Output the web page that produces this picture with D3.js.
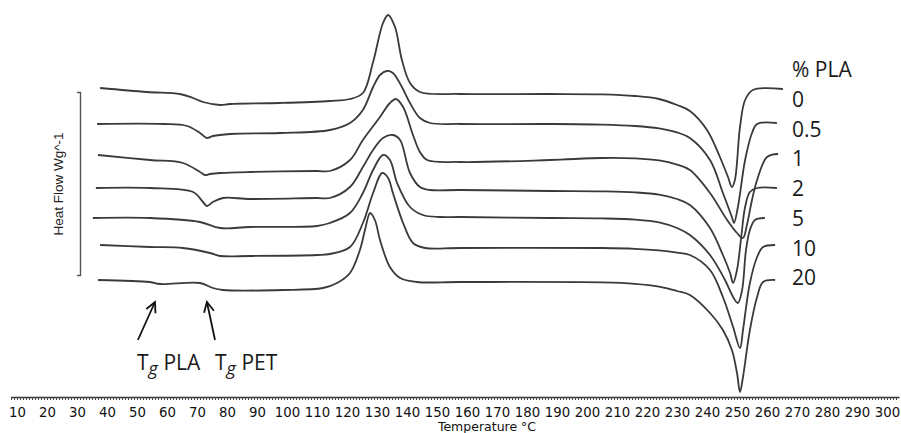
<!DOCTYPE html>
<html>
<head>
<meta charset="utf-8">
<script src="https://cdn.jsdelivr.net/npm/d3@7"></script>
<style>
  body { margin: 0; background: #fff; }
  svg { display: block; }
</style>
</head>
<body>
<svg id="dsc" width="901" height="433"></svg>
<script>
(function(){
	'use strict';

	// % PLA in the blend, top curve first
	var plaLabels = ['0', '0.5', '1', '2', '5', '10', '20'];
	// vertical stacking of the traces (heat flow units)
	var offsets = [-4.4, -6.2, -7.75, -9.4, -10.9, -12.3, -14.05];

	// [temperature °C, heat flow relative to start]
	var pla0 = [[37.7,0],[53.3,-0.2],[64.3,-0.3],[68.7,-0.5],[72,-0.7],[77.7,-0.85],[81,-0.8],[97.7,-0.75],[114.3,-0.65],[121,-0.55],[125.3,-0.25],[128.7,1.3],[132,3.25],[133.7,3.65],[136,3.05],[138.3,1.4],[141,0.25],[144.3,-0.2],[157.7,-0.3],[187.7,-0.3],[205,-0.32],[216,-0.4],[224,-0.55],[230,-0.85],[234.3,-1.15],[240,-2.1],[244.3,-3.45],[247,-4.45],[248.3,-4.95],[249.3,-4.6],[251,-1.95],[252.7,-0.6],[255.3,-0.1],[265.3,-0.05]];
	var pla05 = [[36.7,0],[58.7,0],[66.7,-0.1],[71,-0.45],[73.3,-0.7],[75.3,-0.6],[81,-0.5],[97.7,-0.45],[114.3,-0.3],[121,0.05],[125.3,0.7],[128.7,1.85],[131,2.45],[133.3,2.65],[135.3,2.55],[138.3,1.85],[141,1.05],[144.3,0.3],[147.7,0.05],[157.7,0],[187.7,0],[205,-0.03],[216,-0.1],[224,-0.22],[230,-0.42],[234.3,-0.7],[241,-1.8],[245.3,-3.45],[248.3,-4.65],[249,-4.95],[250.3,-4.15],[252.7,-1.8],[255,-0.45],[256.7,0],[263.3,0.05]];
	var pla1 = [[37,0],[54.3,-0.25],[65.3,-0.4],[71,-0.85],[72.7,-1.0],[74.3,-0.95],[77.7,-0.9],[87.7,-0.85],[110,-0.8],[114.3,-0.8],[121,-0.25],[125.3,0.75],[131,1.9],[134.3,2.6],[136.3,2.8],[138.7,2.4],[142,1.0],[144.3,0.15],[146.7,-0.25],[157.7,-0.35],[187.7,-0.25],[205,-0.15],[216,-0.17],[224,-0.27],[230,-0.48],[234.3,-0.75],[241,-1.9],[246.7,-3.25],[250,-3.9],[252,-4.15],[253.3,-3.5],[255,-2.25],[256.7,-1.25],[260,-0.1],[263.7,0.05]];
	var pla2 = [[36.3,0],[54.3,0],[68.7,-0.2],[72,-0.7],[73.3,-0.9],[75.3,-0.7],[78.7,-0.5],[87.7,-0.55],[110,-0.5],[114.3,-0.5],[121,0.05],[125.3,1.05],[128.7,1.9],[132,2.5],[135.3,2.65],[137.7,2.4],[141,0.75],[144.3,0.05],[147.7,-0.1],[157.7,-0.1],[187.7,-0.15],[205,-0.17],[216,-0.22],[224,-0.33],[230,-0.55],[234.3,-0.85],[241,-2.0],[245.3,-3.35],[247.7,-4.25],[248.7,-4.75],[250,-4.1],[251.3,-2.6],[252.7,-0.95],[254.3,-0.2],[256.7,0],[263.3,0]];
	var pla5 = [[35.3,0],[54.3,0],[71,-0.2],[77.7,-0.5],[87.7,-0.45],[110,-0.4],[114.3,-0.25],[121,0.25],[125.3,1.25],[128.7,2.4],[132,3.15],[134.3,2.9],[136.7,1.75],[141,0.55],[145.3,0.15],[151,0.05],[157.7,0.05],[187.7,0],[205,-0.02],[216,-0.08],[224,-0.22],[230,-0.5],[234.3,-0.85],[241,-1.85],[246,-3.1],[248.7,-3.95],[250.3,-4.25],[251.7,-3.6],[253,-1.6],[254.3,-0.6],[256,-0.1],[259.3,0]];
	var pla10 = [[37.7,0.05],[54.3,-0.05],[65.3,-0.1],[74.3,-0.35],[77.7,-0.5],[87.7,-0.5],[110,-0.45],[114.3,-0.4],[121,-0.05],[125.3,1.15],[128.7,2.65],[131.7,3.65],[133.7,3.4],[135.3,2.65],[138.7,1.15],[142,0.15],[146,-0.1],[157.7,-0.1],[205,-0.1],[216,-0.14],[224,-0.22],[230,-0.33],[234.3,-0.45],[241,-1.2],[245.3,-2.55],[248.7,-4.05],[251,-5.1],[252,-4.2],[254.3,-1.85],[256.7,-0.55],[258.7,-0.05],[262.7,0.05]];
	var pla20 = [[37,0.05],[54.3,-0.05],[57.7,-0.15],[71,-0.1],[75.3,-0.35],[78.7,-0.45],[98.7,-0.45],[112,-0.35],[116.7,-0.1],[121,0.4],[124.3,1.55],[126,2.55],[127.7,3.4],[129.3,3.05],[131,2.05],[134.3,0.7],[137.7,0.15],[143.3,-0.05],[157.7,-0.05],[205,-0.07],[216,-0.14],[224,-0.28],[230,-0.5],[234.3,-0.7],[241,-1.6],[245.3,-2.45],[248.3,-3.45],[250,-4.6],[251,-5.55],[252,-4.8],[254.3,-2.45],[256.7,-0.8],[258.7,-0.05],[262.7,0.05]];

	var series = [pla0, pla05, pla1, pla2, pla5, pla10, pla20];
	var tickLabels = d3.range(10, 301, 10);

	var svg = d3.select('#dsc');

	var x = d3.scaleLinear().domain([8, 304]).range([11, 899]);
	var y = d3.scaleLinear().domain([0, -20]).range([0, 400]);

	// temperature axis
	var xAxis = d3.axisBottom(x)
		.tickValues(d3.range(8, 304, 1))
		.tickSize(3)
		.tickSizeOuter(0)
		.tickPadding(7.5)
		.tickFormat(function(d){ return tickLabels.indexOf(d) >= 0 ? d : ''; });

	var gx = svg.append('g')
		.attr('transform', 'translate(0,397)')
		.call(xAxis);
	gx.select('.domain').attr('stroke', '#333').attr('stroke-width', 1.3);
	gx.selectAll('.tick line').attr('stroke', '#444');
	gx.selectAll('.tick text')
		.attr('fill', '#111')
		.style('font-family', 'DejaVu Sans')
		.style('font-size', '13.3px');

	svg.append('text')
		.attr('x', 487)
		.attr('y', 431)
		.attr('text-anchor', 'middle')
		.attr('fill', '#111')
		.style('font-family', 'DejaVu Sans')
		.style('font-size', '12.5px')
		.text('Temperature °C');

	// heat flow bracket
	var yBracket = d3.scaleLinear().domain([0, 1]).range([275, 92]);
	var gy = svg.append('g')
		.attr('transform', 'translate(80,0)')
		.call(d3.axisLeft(yBracket).tickValues([]).tickSizeOuter(3));
	gy.select('.domain').attr('stroke', '#555').attr('stroke-width', 1.4);

	svg.append('text')
		.attr('transform', 'translate(63,184) rotate(-90)')
		.attr('text-anchor', 'middle')
		.attr('fill', '#222')
		.style('font-family', 'Liberation Sans')
		.style('font-size', '13.5px')
		.text('Heat Flow Wg^-1');

	// traces
	var line = d3.line()
		.x(function(d){ return x(d[0]); })
		.y(function(d){ return y(d[1]); })
		.curve(d3.curveCatmullRom.alpha(0.5));

	svg.append('g')
		.selectAll('path')
		.data(series)
		.enter()
		.append('path')
			.attr('d', function(d, i){
				return line(d.map(function(p){ return [p[0], p[1] + offsets[i]]; }));
			})
			.attr('fill', 'none')
			.attr('stroke', '#3a3a3a')
			.attr('stroke-width', 1.8)
			.attr('stroke-linejoin', 'round');

	// legend on the right
	svg.append('text')
		.attr('x', 792)
		.attr('y', 77)
		.attr('fill', '#1a1a1a')
		.style('font-family', 'Open Sans')
		.style('font-size', '21px')
		.text('% PLA');

	svg.append('g')
		.selectAll('text')
		.data(plaLabels)
		.enter()
		.append('text')
			.attr('x', 792)
			.attr('y', function(d, i){ return 107 + i * 29.7; })
			.attr('fill', '#1a1a1a')
			.style('font-family', 'Open Sans')
			.style('font-size', '21px')
			.text(function(d){ return d; });

	// Tg annotations
	var defs = svg.append('defs');
	defs.append('marker')
		.attr('id', 'arrow')
		.attr('markerUnits', 'userSpaceOnUse')
		.attr('markerWidth', 14)
		.attr('markerHeight', 14)
		.attr('refX', 11)
		.attr('refY', 6)
		.attr('orient', 'auto')
		.append('path')
			.attr('d', 'M1,1 L11,6 L1,11')
			.attr('fill', 'none')
			.attr('stroke', '#111')
			.attr('stroke-width', 1.8);

	var tgNotes = [
		{ name: 'PLA', tip: [56, -15.1], tail: [50.3, -17], at: [50, -18.5] },
		{ name: 'PET', tip: [73.3, -15.1], tail: [76, -17], at: [76, -18.5] }
	];

	svg.append('g')
		.selectAll('line')
		.data(tgNotes)
		.enter()
		.append('line')
			.attr('x1', function(d){ return x(d.tail[0]); })
			.attr('y1', function(d){ return y(d.tail[1]); })
			.attr('x2', function(d){ return x(d.tip[0]); })
			.attr('y2', function(d){ return y(d.tip[1]); })
			.attr('stroke', '#111')
			.attr('stroke-width', 1.8)
			.attr('marker-end', 'url(#arrow)');

	var notes = svg.append('g')
		.selectAll('text')
		.data(tgNotes)
		.enter()
		.append('text')
			.attr('x', function(d){ return x(d.at[0]); })
			.attr('y', function(d){ return y(d.at[1]); })
			.attr('fill', '#1a1a1a')
			.style('font-family', 'Open Sans')
			.style('font-size', '21px');
	notes.append('tspan').text('T');
	notes.append('tspan')
		.attr('dy', 5)
		.style('font-style', 'italic')
		.style('font-size', '18px')
		.text('g');
	notes.append('tspan')
		.attr('dy', -5)
		.text(function(d){ return ' ' + d.name; });

})();
</script>
</body>
</html>
